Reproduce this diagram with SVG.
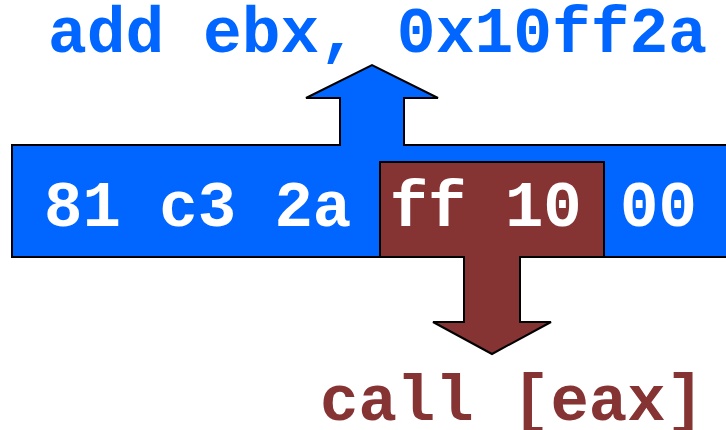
<svg xmlns="http://www.w3.org/2000/svg" width="726" height="430" viewBox="0 0 726 430">
<style>
.mono{font-family:"Liberation Mono","Courier New",monospace;font-weight:bold;font-size:64px;}
.blue{fill:#0066FF;}
.red{fill:#863333;}
.shape{stroke:#000;stroke-width:2;stroke-linejoin:miter;}
</style>
<rect width="726" height="430" fill="#fff"/>
<g id="bytes-bar">
<path class="blue shape" d="M12,145 L340,145 L340,98 L306,98 L372,65 L438,98 L404,98 L404,145 L740,145 L740,257 L12,257 Z"/>
</g>
<g id="call-bytes">
<path class="red shape" d="M380,162 L604,162 L604,257 L520,257 L520,322 L551,322 L492,354 L433,322 L464,322 L464,257 L380,257 Z"/>
</g>
<g id="bytes-text">
<text class="mono" x="44" y="226" fill="#fff">81 c3 2a ff 10 00</text>
</g>
<g id="add-label">
<text class="mono blue" x="48" y="52" style="font-size:64.6px">add ebx, 0x10ff2a</text>
</g>
<g id="call-label">
<text class="mono red" x="320" y="420">call [eax]</text>
</g>
<g id="connectors"></g>
</svg>
